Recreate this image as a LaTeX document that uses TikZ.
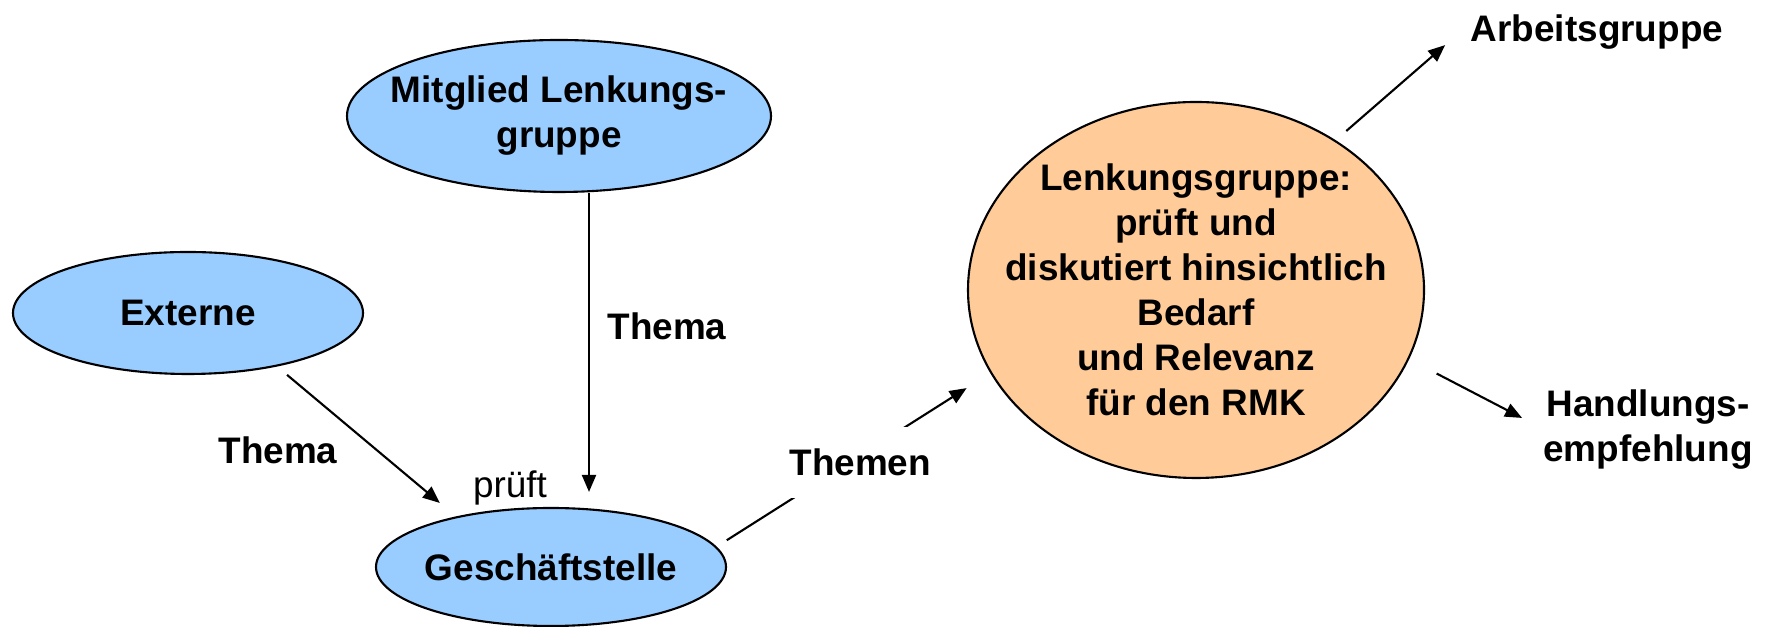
\documentclass[tikz,border=0pt]{standalone}
\usepackage{fontspec}
\setmainfont{Liberation Sans}
\usetikzlibrary{positioning, arrows.meta, shapes.geometric, calc}
\definecolor{lightblue}{RGB}{153,204,255}
\definecolor{peach}{RGB}{255,204,153}

\begin{document}
\begin{tikzpicture}[
		blob/.style={ellipse, draw=black, fill=lightblue, line width=0.6pt, inner sep=-4mm,
			align=center, font=\fontsize{10.5}{12.8}\selectfont\bfseries},
		board/.style={blob, fill=peach},
		lbl/.style={inner sep=1mm, align=center, font=\fontsize{10.5}{12.8}\selectfont\bfseries},
		note/.style={inner sep=1mm, font=\fontsize{10.5}{12.8}\selectfont},
		arrow/.style={-{Triangle[length=1.7mm, width=1.4mm]}, line width=0.6pt}
		]
		\useasboundingbox (0,0) rectangle (17.70,6.27);
		
		% Woher die Themen kommen
		\node[blob, minimum width=4.24cm, minimum height=1.52cm] (mitglied) at (5.59,5.11) {Mitglied Lenkungs-\\gruppe};
		\node[blob, minimum width=3.50cm, minimum height=1.22cm] (externe) at (1.88,3.14) {Externe};
		\node[blob, minimum width=3.50cm, minimum height=1.18cm] (gs) at (5.51,0.60) {Geschäftstelle};
		
		% Lenkungsgruppe in der Mitte rechts
		\node[board, minimum width=4.56cm, minimum height=3.76cm] (lenk) at (11.96,3.37)
		{Lenkungsgruppe:\\prüft und\\diskutiert hinsichtlich\\Bedarf\\und Relevanz\\für den RMK};
		
		% Ergebnisse
		\node[lbl] (ag) at (15.97,5.95) {Arbeitsgruppe};
		\node[lbl] (hand) at (16.48,1.97) {Handlungs-\\empfehlung};
		
		% Beschriftungen
		\node[lbl] (thema1) at (2.78,1.77) {Thema};
		\node[lbl] (thema2) at (6.67,3.01) {Thema};
		\node[note] (prueft) at (5.10,1.39) {prüft};
		
		% Pfeile
		\draw[arrow, shorten <=1.3mm, shorten >=2.1mm] (externe.-31) -- (gs.152);
		\draw[arrow, shorten >=1.5mm] ($(mitglied.south)+(0.3,0)$) -- ($(mitglied.south |- gs.north)+(0.3,0)$);
		\draw[arrow, shorten <=1.2mm, shorten >=2.8mm] (gs.7) --
		node[lbl, fill=white, inner ysep=2.2mm, pos=0.525, yshift=-0.7mm] (themen) {Themen} (lenk.202);
		\draw[arrow, shorten <=1.4mm, shorten >=2mm] (lenk.47) -- (ag.west);
		\draw[arrow, shorten <=3.1mm, shorten >=1.2mm] (lenk.-18) -- ([yshift=0.65mm]hand.west);
		
	\end{tikzpicture}
\end{document}
